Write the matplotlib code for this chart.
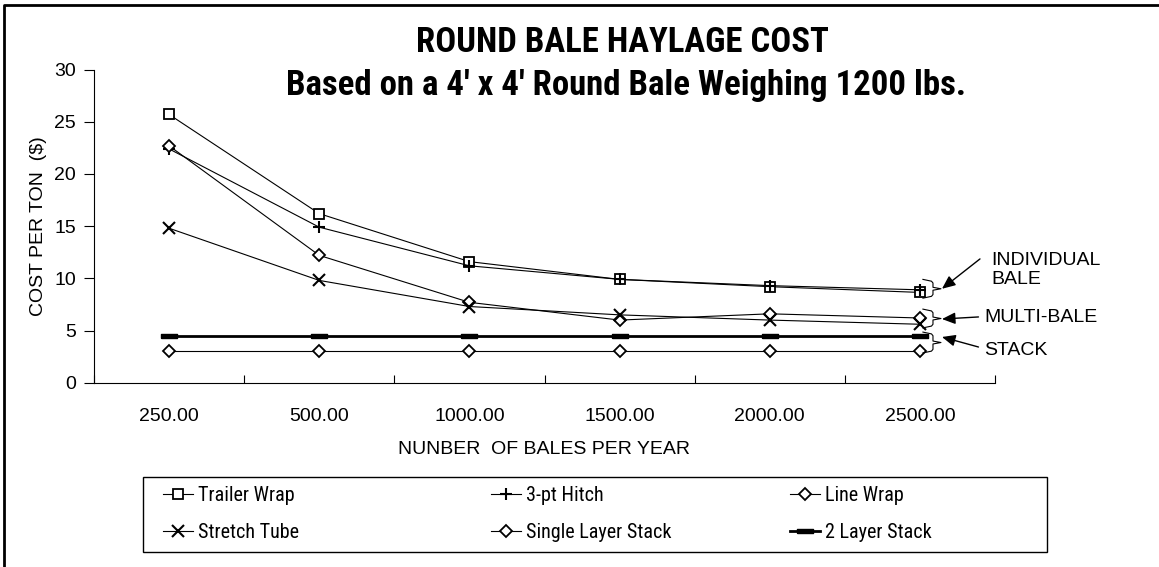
import numpy as np
import matplotlib
matplotlib.use("Agg")
import matplotlib.pyplot as plt
from matplotlib.lines import Line2D
from matplotlib.patches import Rectangle

plt.rcParams['font.family'] = ['Liberation Sans', 'DejaVu Sans']
NARROW = ['Roboto Condensed', 'Liberation Sans Narrow', 'DejaVu Sans']

# data
bales = ["250.00", "500.00", "1000.00", "1500.00", "2000.00", "2500.00"]
trailer_wrap = [25.7, 16.2, 11.6, 9.9, 9.2, 8.65]
hitch_3pt = [22.4, 14.9, 11.2, 9.9, 9.3, 8.9]
line_wrap = [22.7, 12.2, 7.7, 6.0, 6.6, 6.2]
stretch_tube = [14.8, 9.8, 7.3, 6.5, 6.0, 5.6]
single_stack = [3.0, 3.0, 3.0, 3.0, 3.0, 3.0]
two_layer_stack = [4.5, 4.5, 4.5, 4.5, 4.5, 4.5]

W, H = 1159, 567
fig = plt.figure(figsize=(W / 100, H / 100), dpi=100)
ax = fig.add_axes([94 / W, 1 - 382.7 / H, (995 - 94) / W, (382.7 - 69.6) / H])

x = np.arange(len(bales))
lw = 0.8
rect = [(-1, -0.3), (1, -0.3), (1, 0.3), (-1, 0.3), (-1, -0.3)]

l1, = ax.plot(x, trailer_wrap, color='k', lw=lw, marker='s', ms=7, mfc='white', mec='k', mew=1.3, label='Trailer Wrap')
l2, = ax.plot(x, hitch_3pt, color='k', lw=lw, marker='+', ms=9, mew=1.5, label='3-pt Hitch')
l3, = ax.plot(x, line_wrap, color='k', lw=lw, marker='D', ms=6, mfc='white', mec='k', mew=1.3, label='Line Wrap')
l4, = ax.plot(x, stretch_tube, color='k', lw=lw, marker='x', ms=8, mew=1.5, label='Stretch Tube')
l5, = ax.plot(x, single_stack, color='k', lw=lw, marker='D', ms=6, mfc='white', mec='k', mew=1.3, label='Single Layer Stack')
l6, = ax.plot(x, two_layer_stack, color='k', lw=2, marker=rect, ms=11, mfc='k', mec='k', label='2 Layer Stack')

ax.set_xlim(-0.5, len(bales) - 0.5)
ax.set_ylim(0, 30)
ax.set_yticks(np.arange(0, 31, 5))
ax.set_xticks(x)
ax.set_xticklabels(bales)
ax.set_xticks(np.arange(-0.5, len(bales), 1), minor=True)
ax.tick_params(axis='x', which='major', length=0, pad=18, labelsize=14)
ax.tick_params(axis='x', which='minor', direction='in', length=6, width=0.8)
ax.tick_params(axis='y', direction='out', length=7, width=0.8, pad=6, labelsize=14)
for s in ['top', 'right']:
    ax.spines[s].set_visible(False)
for s in ['left', 'bottom']:
    ax.spines[s].set_linewidth(0.8)

ax.set_ylabel('COST PER TON  ($)', fontsize=14, labelpad=5)
ax.set_xlabel('NUNBER  OF BALES PER YEAR', fontsize=14, labelpad=12)

# braces and labels at right
def brace(y_top, y_bot, x0=5.02, x1=5.087, x2=5.14):
    ym = (y_top + y_bot) / 2
    d = 0.35
    xs = [x0, x1 - 0.01, x1, x1, x2, x1, x1, x1 - 0.01, x0]
    ys = [y_top, y_top - d * 0.5, y_top - d, ym + d * 0.4, ym, ym - d * 0.4, y_bot + d, y_bot + d * 0.5, y_bot]
    ax.plot(xs, ys, color='k', lw=0.8, clip_on=False)

brace(9.9, 8.1)
brace(7.05, 5.25)
brace(4.85, 2.85)

arrow = dict(arrowstyle='-|>,head_length=0.8,head_width=0.35', color='k', lw=1, shrinkA=0, shrinkB=0)
ax.annotate('', xy=(5.147, 9.0), xytext=(5.40, 11.86), arrowprops=arrow, annotation_clip=False)
ax.annotate('', xy=(5.147, 6.1), xytext=(5.39, 6.3), arrowprops=arrow, annotation_clip=False)
ax.annotate('', xy=(5.147, 4.38), xytext=(5.39, 3.42), arrowprops=arrow, annotation_clip=False)
ax.text(5.478, 10.78, 'INDIVIDUAL\nBALE', fontsize=14, ha='left', va='center', linespacing=1.2, clip_on=False)
ax.text(5.43, 6.2, 'MULTI-BALE', fontsize=14, ha='left', va='center', clip_on=False)
ax.text(5.43, 3.04, 'STACK', fontsize=14, ha='left', va='center', clip_on=False)

# title
fig.text(0.537, 1 - 43 / H, 'ROUND BALE HAYLAGE COST', family=NARROW, weight='black',
         stretch='condensed', fontsize=25, ha='center', va='center')
fig.text(0.540, 1 - 86 / H, "Based on a 4' x 4' Round Bale Weighing 1200 lbs.", family=NARROW,
         weight='black', stretch='condensed', fontsize=25, ha='center', va='center')

# legend box with three columns
fig.add_artist(Rectangle((143 / W, 1 - 552 / H), (1047 - 143) / W, (552 - 477) / H,
                         transform=fig.transFigure, fill=False, ec='k', lw=1))
cols = [([l1, l4], 163), ([l2, l5], 491), ([l3, l6], 790)]
for handles, px in cols:
    leg = fig.legend(handles=handles, loc='upper left', bbox_to_anchor=(px / W, 1 - 486 / H),
                     frameon=False, borderpad=0, borderaxespad=0, handlelength=1.5,
                     handletextpad=0.25, labelspacing=0.9,
                     prop={'family': NARROW, 'stretch': 'condensed', 'size': 14.5})

# outer frame
fig.add_artist(Line2D([4 / W, 4 / W, 1.01], [-0.01, 1 - 4.5 / H, 1 - 4.5 / H],
                      transform=fig.transFigure, color='k', lw=2))

fig.savefig('out.png', dpi=100, facecolor='white')
